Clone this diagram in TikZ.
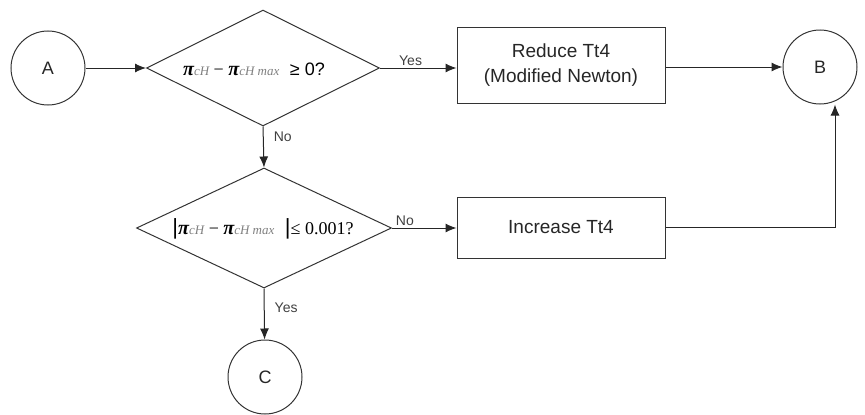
\documentclass[tikz,border=0pt]{standalone}
\usepackage{fontspec}
\setmainfont{Liberation Sans}
\newfontfamily\serif{Liberation Serif}
\usetikzlibrary{shapes.geometric,arrows.meta}
\newcommand{\bigpi}{{\serif\bfseries\itshape\fontsize{20}{20}\selectfont π}}
\newcommand{\subsc}[1]{{\serif\itshape\color{gray}\fontsize{13}{13}\selectfont #1}}
\newcommand{\mns}{{\serif\fontsize{18}{18}\selectfont\ −\ }}
\begin{document}
\begin{tikzpicture}[x=1pt,y=-1pt,
  every node/.style={font=\fontsize{19}{25}\selectfont,text=black!85},
  circ/.style={draw=black!80,circle,minimum size=74pt,inner sep=0pt,line width=1pt,font=\fontsize{18}{20}\selectfont},
  dia/.style={draw=black!80,diamond,inner sep=0pt,line width=1pt},
  box/.style={draw=black!80,rectangle,minimum width=208pt,inner sep=0pt,line width=1pt,align=center},
  conn/.style={draw=black!85,line width=1pt,-{Latex[length=11pt,width=9pt]}},
  lab/.style={font=\fontsize{14}{16}\selectfont,inner sep=2pt,text=black!75},
  formula/.style={inner sep=0pt,text=black}]
\useasboundingbox (0,0) rectangle (865,415);
\node[circ] (A) at (48,68) {A};
\node[circ] (B) at (820,67) {B};
\node[circ] (C) at (265,377) {C};
\node[dia,minimum width=233pt,minimum height=116pt] (D1) at (263,68) {};
\node[formula] (F1) at (254,69) {\bigpi\subsc{cH}\mns\bigpi\subsc{cH\ max}\ \ {\fontsize{18}{18}\selectfont ≥ 0?}};
\node[dia,minimum width=255pt,minimum height=120pt] (D2) at (264,228) {};
\node[formula] (F2) at (263,229) {{\fontsize{22}{22}\selectfont|}\bigpi\subsc{cH}\mns\bigpi\subsc{cH\ max}\ \ {\fontsize{22}{22}\selectfont|}{\serif\fontsize{18}{18}\selectfont≤ 0.001?}};
\node[box,minimum height=76pt] (R) at (561,65) {Reduce Tt4\\(Modified Newton)};
\node[box,minimum height=61pt] (I) at (561,227.5) {Increase Tt4};
\coordinate (K) at (835,227.5);
\draw[conn] (A) -- (D1.west);
\draw[conn] (D1.east) -- node[lab,above,pos=0.4] (y1) {Yes} (D1.east -| R.west);
\draw[conn] (R.east |- B) -- (B);
\draw[conn] (D1.south) -- node[lab,right,pos=0.26,xshift=8pt] (n1) {No} (D2.north);
\draw[conn] (D2.east) -- node[lab,above,pos=0.2] (n2) {No} (D2.east -| I.west);
\draw[conn] (I.east) -- (K) -- (K |- B.south);
\draw[conn] (D2.south) -- node[lab,right,pos=0.38,xshift=8pt] (y2) {Yes} (C);
\end{tikzpicture}
\end{document}
